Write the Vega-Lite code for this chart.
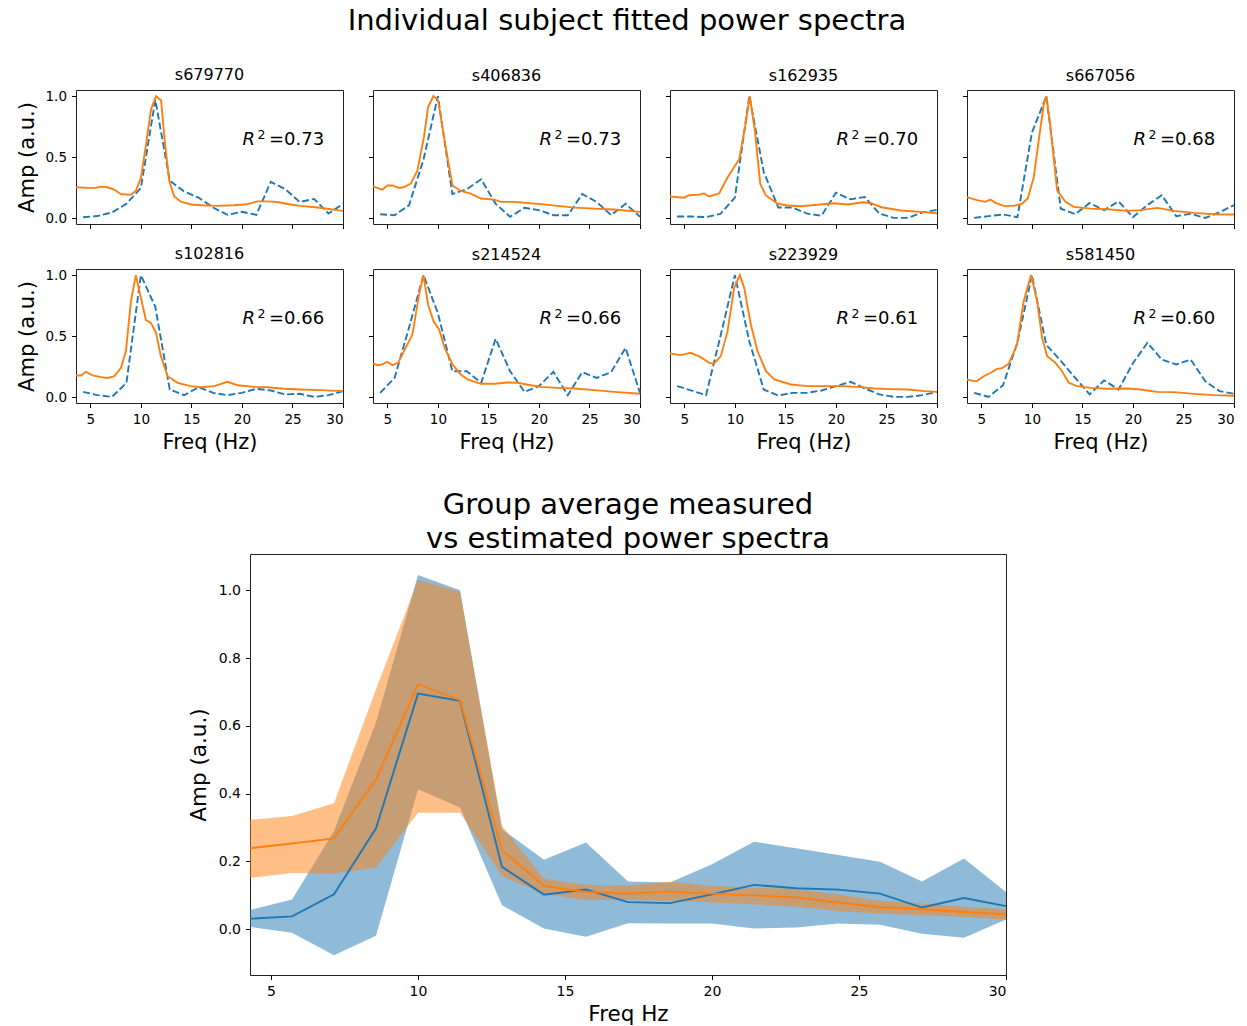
{
  "$schema": "https://vega.github.io/schema/vega-lite/v6.json",
  "padding": {"left": 15, "top": 6, "right": 5, "bottom": 2},
  "background": "white",
  "config": {
    "font": "DejaVu Sans",
    "view": {"stroke": "#222", "strokeWidth": 1},
    "axis": {"grid": false, "domain": false, "tickColor": "#000", "tickSize": 4.5, "tickWidth": 1, "labelColor": "#000", "titleColor": "#000", "titleFontWeight": "normal", "labelFontSize": 13.5, "titleFontSize": 21, "labelPadding": 5, "labelFont": "DejaVu Sans", "titleFont": "DejaVu Sans"},
    "axisY": {"titlePadding": 8},
    "axisX": {"titlePadding": 5},
    "title": {"fontWeight": "normal", "color": "#000", "font": "DejaVu Sans"}
  },
  "datasets": {
    "meas": [
      {"s":"s679770","f":4.2857,"a":0.01},{"s":"s679770","f":5.7143,"a":0.02},{"s":"s679770","f":7.1429,"a":0.05},{"s":"s679770","f":8.5714,"a":0.12},{"s":"s679770","f":10,"a":0.25},{"s":"s679770","f":11.4286,"a":0.97},{"s":"s679770","f":12.8571,"a":0.31},{"s":"s679770","f":14.2857,"a":0.22},{"s":"s679770","f":15.7143,"a":0.17},{"s":"s679770","f":17.1429,"a":0.09},{"s":"s679770","f":18.5714,"a":0.03},{"s":"s679770","f":20,"a":0.055},{"s":"s679770","f":21.4286,"a":0.03},{"s":"s679770","f":22.8571,"a":0.30},{"s":"s679770","f":24.2857,"a":0.24},{"s":"s679770","f":25.7143,"a":0.135},{"s":"s679770","f":27.1429,"a":0.16},{"s":"s679770","f":28.5714,"a":0.04},{"s":"s679770","f":30,"a":0.12},
      {"s":"s406836","f":4.2857,"a":0.035},{"s":"s406836","f":5.7143,"a":0.027},{"s":"s406836","f":7.1429,"a":0.108},{"s":"s406836","f":8.5714,"a":0.48},{"s":"s406836","f":10,"a":1.0},{"s":"s406836","f":11.4286,"a":0.20},{"s":"s406836","f":12.8571,"a":0.24},{"s":"s406836","f":14.2857,"a":0.32},{"s":"s406836","f":15.7143,"a":0.12},{"s":"s406836","f":17.1429,"a":0.014},{"s":"s406836","f":18.5714,"a":0.087},{"s":"s406836","f":20,"a":0.068},{"s":"s406836","f":21.4286,"a":0.027},{"s":"s406836","f":22.8571,"a":0.027},{"s":"s406836","f":24.2857,"a":0.20},{"s":"s406836","f":25.7143,"a":0.135},{"s":"s406836","f":27.1429,"a":0.027},{"s":"s406836","f":28.5714,"a":0.12},{"s":"s406836","f":30,"a":0.014},
      {"s":"s162935","f":4.2857,"a":0.016},{"s":"s162935","f":5.7143,"a":0.016},{"s":"s162935","f":7.1429,"a":0.011},{"s":"s162935","f":8.5714,"a":0.038},{"s":"s162935","f":10,"a":0.17},{"s":"s162935","f":11.4286,"a":1.0},{"s":"s162935","f":12.8571,"a":0.38},{"s":"s162935","f":14.2857,"a":0.09},{"s":"s162935","f":15.7143,"a":0.09},{"s":"s162935","f":17.1429,"a":0.04},{"s":"s162935","f":18.5714,"a":0.022},{"s":"s162935","f":20,"a":0.21},{"s":"s162935","f":21.4286,"a":0.157},{"s":"s162935","f":22.8571,"a":0.176},{"s":"s162935","f":24.2857,"a":0.04},{"s":"s162935","f":25.7143,"a":0.005},{"s":"s162935","f":27.1429,"a":0.005},{"s":"s162935","f":28.5714,"a":0.05},{"s":"s162935","f":30,"a":0.07},
      {"s":"s667056","f":4.2857,"a":0.005},{"s":"s667056","f":5.7143,"a":0.019},{"s":"s667056","f":7.1429,"a":0.033},{"s":"s667056","f":8.5714,"a":0.011},{"s":"s667056","f":10,"a":0.70},{"s":"s667056","f":11.4286,"a":1.0},{"s":"s667056","f":12.8571,"a":0.08},{"s":"s667056","f":14.2857,"a":0.035},{"s":"s667056","f":15.7143,"a":0.127},{"s":"s667056","f":17.1429,"a":0.068},{"s":"s667056","f":18.5714,"a":0.14},{"s":"s667056","f":20,"a":0.011},{"s":"s667056","f":21.4286,"a":0.11},{"s":"s667056","f":22.8571,"a":0.19},{"s":"s667056","f":24.2857,"a":0.019},{"s":"s667056","f":25.7143,"a":0.038},{"s":"s667056","f":27.1429,"a":0.005},{"s":"s667056","f":28.5714,"a":0.05},{"s":"s667056","f":30,"a":0.11},
      {"s":"s102816","f":4.2857,"a":0.046},{"s":"s102816","f":5.7143,"a":0.019},{"s":"s102816","f":7.1429,"a":0.005},{"s":"s102816","f":8.5714,"a":0.12},{"s":"s102816","f":10,"a":1.0},{"s":"s102816","f":11.4286,"a":0.74},{"s":"s102816","f":12.8571,"a":0.065},{"s":"s102816","f":14.2857,"a":0.019},{"s":"s102816","f":15.7143,"a":0.084},{"s":"s102816","f":17.1429,"a":0.038},{"s":"s102816","f":18.5714,"a":0.019},{"s":"s102816","f":20,"a":0.038},{"s":"s102816","f":21.4286,"a":0.071},{"s":"s102816","f":22.8571,"a":0.057},{"s":"s102816","f":24.2857,"a":0.025},{"s":"s102816","f":25.7143,"a":0.03},{"s":"s102816","f":27.1429,"a":0.005},{"s":"s102816","f":28.5714,"a":0.019},{"s":"s102816","f":30,"a":0.052},
      {"s":"s214524","f":4.2857,"a":0.038},{"s":"s214524","f":5.7143,"a":0.16},{"s":"s214524","f":7.1429,"a":0.57},{"s":"s214524","f":8.5714,"a":1.0},{"s":"s214524","f":10,"a":0.69},{"s":"s214524","f":11.4286,"a":0.215},{"s":"s214524","f":12.8571,"a":0.215},{"s":"s214524","f":14.2857,"a":0.12},{"s":"s214524","f":15.7143,"a":0.48},{"s":"s214524","f":17.1429,"a":0.215},{"s":"s214524","f":18.5714,"a":0.046},{"s":"s214524","f":20,"a":0.093},{"s":"s214524","f":21.4286,"a":0.21},{"s":"s214524","f":22.8571,"a":0.019},{"s":"s214524","f":24.2857,"a":0.207},{"s":"s214524","f":25.7143,"a":0.16},{"s":"s214524","f":27.1429,"a":0.207},{"s":"s214524","f":28.5714,"a":0.406},{"s":"s214524","f":30,"a":0.038},
      {"s":"s223929","f":4.2857,"a":0.093},{"s":"s223929","f":5.7143,"a":0.056},{"s":"s223929","f":7.1429,"a":0.019},{"s":"s223929","f":8.5714,"a":0.50},{"s":"s223929","f":10,"a":1.0},{"s":"s223929","f":11.4286,"a":0.46},{"s":"s223929","f":12.8571,"a":0.065},{"s":"s223929","f":14.2857,"a":0.016},{"s":"s223929","f":15.7143,"a":0.038},{"s":"s223929","f":17.1429,"a":0.038},{"s":"s223929","f":18.5714,"a":0.057},{"s":"s223929","f":20,"a":0.093},{"s":"s223929","f":21.4286,"a":0.128},{"s":"s223929","f":22.8571,"a":0.074},{"s":"s223929","f":24.2857,"a":0.025},{"s":"s223929","f":25.7143,"a":0.005},{"s":"s223929","f":27.1429,"a":0.005},{"s":"s223929","f":28.5714,"a":0.019},{"s":"s223929","f":30,"a":0.046},
      {"s":"s581450","f":4.2857,"a":0.038},{"s":"s581450","f":5.7143,"a":0.005},{"s":"s581450","f":7.1429,"a":0.10},{"s":"s581450","f":8.5714,"a":0.45},{"s":"s581450","f":10,"a":1.0},{"s":"s581450","f":11.4286,"a":0.43},{"s":"s581450","f":12.8571,"a":0.30},{"s":"s581450","f":14.2857,"a":0.16},{"s":"s581450","f":15.7143,"a":0.025},{"s":"s581450","f":17.1429,"a":0.14},{"s":"s581450","f":18.5714,"a":0.065},{"s":"s581450","f":20,"a":0.28},{"s":"s581450","f":21.4286,"a":0.447},{"s":"s581450","f":22.8571,"a":0.31},{"s":"s581450","f":24.2857,"a":0.27},{"s":"s581450","f":25.7143,"a":0.31},{"s":"s581450","f":27.1429,"a":0.134},{"s":"s581450","f":28.5714,"a":0.052},{"s":"s581450","f":30,"a":0.03}
    ],
    "model": [
      {"s":"s679770","f":3.58,"a":0.255},{"s":"s679770","f":4.7,"a":0.25},{"s":"s679770","f":5.5,"a":0.25},{"s":"s679770","f":6.0,"a":0.26},{"s":"s679770","f":6.7,"a":0.255},{"s":"s679770","f":7.4,"a":0.235},{"s":"s679770","f":8.0,"a":0.2},{"s":"s679770","f":9.0,"a":0.193},{"s":"s679770","f":9.5,"a":0.225},{"s":"s679770","f":10.0,"a":0.33},{"s":"s679770","f":10.5,"a":0.6},{"s":"s679770","f":11.0,"a":0.89},{"s":"s679770","f":11.5,"a":1.0},{"s":"s679770","f":12.0,"a":0.965},{"s":"s679770","f":12.4,"a":0.6},{"s":"s679770","f":12.8,"a":0.31},{"s":"s679770","f":13.3,"a":0.18},{"s":"s679770","f":14.0,"a":0.135},{"s":"s679770","f":15.0,"a":0.114},{"s":"s679770","f":16.0,"a":0.108},{"s":"s679770","f":17.5,"a":0.103},{"s":"s679770","f":19.2,"a":0.108},{"s":"s679770","f":20.5,"a":0.116},{"s":"s679770","f":21.5,"a":0.14},{"s":"s679770","f":22.5,"a":0.14},{"s":"s679770","f":23.5,"a":0.135},{"s":"s679770","f":24.8,"a":0.114},{"s":"s679770","f":25.8,"a":0.103},{"s":"s679770","f":27.5,"a":0.09},{"s":"s679770","f":28.8,"a":0.076},{"s":"s679770","f":30,"a":0.062},
      {"s":"s406836","f":3.58,"a":0.263},{"s":"s406836","f":4.5,"a":0.236},{"s":"s406836","f":5.0,"a":0.27},{"s":"s406836","f":5.5,"a":0.27},{"s":"s406836","f":6.16,"a":0.25},{"s":"s406836","f":6.65,"a":0.257},{"s":"s406836","f":7.31,"a":0.285},{"s":"s406836","f":7.97,"a":0.39},{"s":"s406836","f":8.63,"a":0.67},{"s":"s406836","f":9.03,"a":0.91},{"s":"s406836","f":9.56,"a":1.0},{"s":"s406836","f":10.02,"a":0.967},{"s":"s406836","f":10.45,"a":0.745},{"s":"s406836","f":11.01,"a":0.47},{"s":"s406836","f":11.44,"a":0.27},{"s":"s406836","f":12.27,"a":0.225},{"s":"s406836","f":13.26,"a":0.203},{"s":"s406836","f":14.25,"a":0.163},{"s":"s406836","f":15.57,"a":0.154},{"s":"s406836","f":16.23,"a":0.136},{"s":"s406836","f":17.55,"a":0.136},{"s":"s406836","f":18.87,"a":0.127},{"s":"s406836","f":20.19,"a":0.117},{"s":"s406836","f":21.84,"a":0.103},{"s":"s406836","f":23.49,"a":0.089},{"s":"s406836","f":25.48,"a":0.081},{"s":"s406836","f":27.46,"a":0.073},{"s":"s406836","f":30,"a":0.054},
      {"s":"s162935","f":3.58,"a":0.18},{"s":"s162935","f":4.97,"a":0.17},{"s":"s162935","f":5.46,"a":0.19},{"s":"s162935","f":6.46,"a":0.195},{"s":"s162935","f":6.95,"a":0.205},{"s":"s162935","f":7.45,"a":0.18},{"s":"s162935","f":8.44,"a":0.205},{"s":"s162935","f":9.27,"a":0.335},{"s":"s162935","f":10.43,"a":0.485},{"s":"s162935","f":10.99,"a":0.74},{"s":"s162935","f":11.48,"a":1.0},{"s":"s162935","f":11.98,"a":0.717},{"s":"s162935","f":12.51,"a":0.283},{"s":"s162935","f":13.07,"a":0.188},{"s":"s162935","f":14.23,"a":0.12},{"s":"s162935","f":15.22,"a":0.106},{"s":"s162935","f":16.54,"a":0.1},{"s":"s162935","f":17.87,"a":0.11},{"s":"s162935","f":19.19,"a":0.12},{"s":"s162935","f":19.85,"a":0.125},{"s":"s162935","f":21.17,"a":0.114},{"s":"s162935","f":22.66,"a":0.133},{"s":"s162935","f":23.49,"a":0.125},{"s":"s162935","f":24.48,"a":0.092},{"s":"s162935","f":26.46,"a":0.065},{"s":"s162935","f":28.78,"a":0.052},{"s":"s162935","f":30,"a":0.043},
      {"s":"s667056","f":3.58,"a":0.175},{"s":"s667056","f":4.57,"a":0.15},{"s":"s667056","f":5.4,"a":0.136},{"s":"s667056","f":5.89,"a":0.155},{"s":"s667056","f":6.39,"a":0.128},{"s":"s667056","f":7.21,"a":0.103},{"s":"s667056","f":8.2,"a":0.103},{"s":"s667056","f":9.03,"a":0.122},{"s":"s667056","f":9.59,"a":0.163},{"s":"s667056","f":10.19,"a":0.34},{"s":"s667056","f":10.68,"a":0.64},{"s":"s667056","f":11.18,"a":0.935},{"s":"s667056","f":11.44,"a":1.0},{"s":"s667056","f":11.84,"a":0.745},{"s":"s667056","f":12.5,"a":0.23},{"s":"s667056","f":13.32,"a":0.136},{"s":"s667056","f":14.15,"a":0.095},{"s":"s667056","f":15.8,"a":0.081},{"s":"s667056","f":17.45,"a":0.076},{"s":"s667056","f":19.43,"a":0.062},{"s":"s667056","f":20.75,"a":0.068},{"s":"s667056","f":22.4,"a":0.087},{"s":"s667056","f":24.05,"a":0.062},{"s":"s667056","f":26.04,"a":0.046},{"s":"s667056","f":28.02,"a":0.035},{"s":"s667056","f":30,"a":0.033},
      {"s":"s102816","f":3.58,"a":0.18},{"s":"s102816","f":4.07,"a":0.18},{"s":"s102816","f":4.57,"a":0.21},{"s":"s102816","f":5.23,"a":0.18},{"s":"s102816","f":6.05,"a":0.166},{"s":"s102816","f":6.71,"a":0.16},{"s":"s102816","f":7.37,"a":0.174},{"s":"s102816","f":8.03,"a":0.243},{"s":"s102816","f":8.52,"a":0.38},{"s":"s102816","f":9.02,"a":0.79},{"s":"s102816","f":9.51,"a":1.0},{"s":"s102816","f":10.0,"a":0.815},{"s":"s102816","f":10.5,"a":0.632},{"s":"s102816","f":10.99,"a":0.61},{"s":"s102816","f":11.49,"a":0.53},{"s":"s102816","f":11.98,"a":0.338},{"s":"s102816","f":12.64,"a":0.174},{"s":"s102816","f":13.63,"a":0.12},{"s":"s102816","f":14.94,"a":0.093},{"s":"s102816","f":15.93,"a":0.084},{"s":"s102816","f":17.25,"a":0.093},{"s":"s102816","f":18.57,"a":0.128},{"s":"s102816","f":19.56,"a":0.1},{"s":"s102816","f":21.2,"a":0.087},{"s":"s102816","f":22.52,"a":0.084},{"s":"s102816","f":24.17,"a":0.071},{"s":"s102816","f":25.81,"a":0.065},{"s":"s102816","f":27.79,"a":0.06},{"s":"s102816","f":30,"a":0.052},
      {"s":"s214524","f":3.58,"a":0.278},{"s":"s214524","f":4.01,"a":0.264},{"s":"s214524","f":4.5,"a":0.27},{"s":"s214524","f":5.0,"a":0.292},{"s":"s214524","f":5.5,"a":0.264},{"s":"s214524","f":6.06,"a":0.283},{"s":"s214524","f":6.65,"a":0.379},{"s":"s214524","f":7.48,"a":0.515},{"s":"s214524","f":8.14,"a":0.842},{"s":"s214524","f":8.57,"a":1.0},{"s":"s214524","f":9.03,"a":0.76},{"s":"s214524","f":9.56,"a":0.624},{"s":"s214524","f":10.12,"a":0.556},{"s":"s214524","f":10.68,"a":0.406},{"s":"s214524","f":11.44,"a":0.27},{"s":"s214524","f":12.27,"a":0.188},{"s":"s214524","f":12.93,"a":0.147},{"s":"s214524","f":14.25,"a":0.112},{"s":"s214524","f":15.57,"a":0.112},{"s":"s214524","f":16.89,"a":0.123},{"s":"s214524","f":17.88,"a":0.12},{"s":"s214524","f":19.2,"a":0.1},{"s":"s214524","f":20.19,"a":0.087},{"s":"s214524","f":21.84,"a":0.079},{"s":"s214524","f":23.49,"a":0.074},{"s":"s214524","f":25.48,"a":0.06},{"s":"s214524","f":27.46,"a":0.046},{"s":"s214524","f":30,"a":0.03},
      {"s":"s223929","f":3.58,"a":0.36},{"s":"s223929","f":4.64,"a":0.346},{"s":"s223929","f":5.63,"a":0.365},{"s":"s223929","f":6.62,"a":0.33},{"s":"s223929","f":7.45,"a":0.283},{"s":"s223929","f":7.95,"a":0.278},{"s":"s223929","f":8.61,"a":0.338},{"s":"s223929","f":9.27,"a":0.54},{"s":"s223929","f":9.93,"a":0.896},{"s":"s223929","f":10.49,"a":1.0},{"s":"s223929","f":10.92,"a":0.896},{"s":"s223929","f":11.58,"a":0.597},{"s":"s223929","f":12.24,"a":0.379},{"s":"s223929","f":13.07,"a":0.215},{"s":"s223929","f":13.9,"a":0.147},{"s":"s223929","f":15.55,"a":0.106},{"s":"s223929","f":17.2,"a":0.093},{"s":"s223929","f":18.86,"a":0.093},{"s":"s223929","f":20.51,"a":0.093},{"s":"s223929","f":22.16,"a":0.087},{"s":"s223929","f":23.82,"a":0.074},{"s":"s223929","f":25.47,"a":0.068},{"s":"s223929","f":27.12,"a":0.065},{"s":"s223929","f":28.78,"a":0.052},{"s":"s223929","f":30,"a":0.046},
      {"s":"s581450","f":3.58,"a":0.147},{"s":"s581450","f":4.24,"a":0.134},{"s":"s581450","f":4.57,"a":0.134},{"s":"s581450","f":5.23,"a":0.174},{"s":"s581450","f":5.89,"a":0.2},{"s":"s581450","f":6.55,"a":0.234},{"s":"s581450","f":7.05,"a":0.24},{"s":"s581450","f":7.71,"a":0.275},{"s":"s581450","f":8.53,"a":0.433},{"s":"s581450","f":9.19,"a":0.787},{"s":"s581450","f":9.92,"a":1.0},{"s":"s581450","f":10.52,"a":0.787},{"s":"s581450","f":11.01,"a":0.488},{"s":"s581450","f":11.51,"a":0.338},{"s":"s581450","f":12.33,"a":0.283},{"s":"s581450","f":12.99,"a":0.215},{"s":"s581450","f":13.65,"a":0.12},{"s":"s581450","f":14.48,"a":0.093},{"s":"s581450","f":15.8,"a":0.079},{"s":"s581450","f":17.45,"a":0.071},{"s":"s581450","f":19.43,"a":0.074},{"s":"s581450","f":20.75,"a":0.065},{"s":"s581450","f":22.4,"a":0.046},{"s":"s581450","f":24.05,"a":0.044},{"s":"s581450","f":26.04,"a":0.03},{"s":"s581450","f":28.02,"a":0.019},{"s":"s581450","f":30,"a":0.014}
    ],
    "r2": [
      {"s":"s679770","lab":"=0.73"},{"s":"s406836","lab":"=0.73"},{"s":"s162935","lab":"=0.70"},{"s":"s667056","lab":"=0.68"},
      {"s":"s102816","lab":"=0.66"},{"s":"s214524","lab":"=0.66"},{"s":"s223929","lab":"=0.61"},{"s":"s581450","lab":"=0.60"}
    ],
    "grp": [
      {"f":4.2857,"mMean":0.031,"mLo":0.007,"mHi":0.057,"eMean":0.239,"eLo":0.151,"eHi":0.323},
      {"f":5.7143,"mMean":0.038,"mLo":-0.010,"mHi":0.088,"eMean":0.253,"eLo":0.166,"eHi":0.334},
      {"f":7.1429,"mMean":0.103,"mLo":-0.077,"mHi":0.29,"eMean":0.268,"eLo":0.164,"eHi":0.372},
      {"f":8.5714,"mMean":0.298,"mLo":-0.019,"mHi":0.61,"eMean":0.442,"eLo":0.182,"eHi":0.708},
      {"f":10,"mMean":0.695,"mLo":0.413,"mHi":1.045,"eMean":0.723,"eLo":0.344,"eHi":1.030},
      {"f":11.4286,"mMean":0.674,"mLo":0.359,"mHi":1.0,"eMean":0.676,"eLo":0.344,"eHi":0.996},
      {"f":12.8571,"mMean":0.184,"mLo":0.071,"mHi":0.295,"eMean":0.233,"eLo":0.157,"eHi":0.305},
      {"f":14.2857,"mMean":0.102,"mLo":0.002,"mHi":0.205,"eMean":0.128,"eLo":0.103,"eHi":0.149},
      {"f":15.7143,"mMean":0.117,"mLo":-0.022,"mHi":0.256,"eMean":0.110,"eLo":0.086,"eHi":0.131},
      {"f":17.1429,"mMean":0.080,"mLo":0.018,"mHi":0.141,"eMean":0.105,"eLo":0.086,"eHi":0.128},
      {"f":18.5714,"mMean":0.077,"mLo":0.017,"mHi":0.138,"eMean":0.111,"eLo":0.084,"eHi":0.140},
      {"f":20,"mMean":0.103,"mLo":0.017,"mHi":0.192,"eMean":0.105,"eLo":0.079,"eHi":0.128},
      {"f":21.4286,"mMean":0.131,"mLo":0.002,"mHi":0.258,"eMean":0.100,"eLo":0.074,"eHi":0.123},
      {"f":22.8571,"mMean":0.121,"mLo":0.005,"mHi":0.239,"eMean":0.094,"eLo":0.066,"eHi":0.118},
      {"f":24.2857,"mMean":0.117,"mLo":0.017,"mHi":0.219,"eMean":0.079,"eLo":0.054,"eHi":0.103},
      {"f":25.7143,"mMean":0.105,"mLo":0.013,"mHi":0.199,"eMean":0.065,"eLo":0.046,"eHi":0.084},
      {"f":27.1429,"mMean":0.064,"mLo":-0.013,"mHi":0.141,"eMean":0.059,"eLo":0.042,"eHi":0.076},
      {"f":28.5714,"mMean":0.092,"mLo":-0.025,"mHi":0.209,"eMean":0.051,"eLo":0.036,"eHi":0.066},
      {"f":30,"mMean":0.068,"mLo":0.029,"mHi":0.110,"eMean":0.044,"eLo":0.029,"eHi":0.059}
    ]
  },
  "title": {"text": "Individual subject fitted power spectra", "fontSize": 29, "anchor": "middle", "offset": 31},
  "spacing": 37,
  "vconcat": [
    {
      "spacing": 15,
      "vconcat": [
        {
          "bounds": "flush",
          "spacing": 30,
          "hconcat": [
            {
              "width": 267, "height": 134,
              "title": {"text": "s679770", "fontSize": 16, "offset": 6},
              "layer": [
                {"data": {"name": "meas"}, "transform": [{"filter": "datum.s === 's679770'"}], "mark": {"type": "line", "color": "#1f77b4", "strokeWidth": 1.9, "strokeDash": [7, 3]},
                 "encoding": {"x": {"field": "f", "type": "quantitative", "scale": {"domain": [3.58, 30], "nice": false, "zero": false}, "axis": {"values": [5,10,15,20,25,30], "labels": false, "title": null}}, "y": {"field": "a", "type": "quantitative", "scale": {"domain": [-0.045, 1.05], "nice": false, "zero": false}, "axis": {"values": [0, 0.5, 1], "format": ".1f", "title": "Amp (a.u.)"}}}},
                {"data": {"name": "model"}, "transform": [{"filter": "datum.s === 's679770'"}], "mark": {"type": "line", "color": "#ff7f0e", "strokeWidth": 1.9}, "encoding": {"x": {"field": "f", "type": "quantitative"}, "y": {"field": "a", "type": "quantitative"}}},
                {"data": {"name": "r2"}, "transform": [{"filter": "datum.s === 's679770'"}], "mark": {"type": "text", "text": "R", "fontStyle": "italic", "fontSize": 18, "align": "left", "baseline": "middle", "color": "#000"}, "encoding": {"x": {"datum": 20.05, "type": "quantitative"}, "y": {"datum": 0.645, "type": "quantitative"}}},
                {"data": {"name": "r2"}, "transform": [{"filter": "datum.s === 's679770'"}], "mark": {"type": "text", "text": "2", "fontSize": 12.5, "align": "left", "baseline": "middle", "dx": 15, "dy": -5, "color": "#000"}, "encoding": {"x": {"datum": 20.05, "type": "quantitative"}, "y": {"datum": 0.645, "type": "quantitative"}}},
                {"data": {"name": "r2"}, "transform": [{"filter": "datum.s === 's679770'"}], "mark": {"type": "text", "fontSize": 18, "align": "left", "baseline": "middle", "dx": 26.5, "color": "#000"}, "encoding": {"x": {"datum": 20.05, "type": "quantitative"}, "y": {"datum": 0.645, "type": "quantitative"}, "text": {"field": "lab", "type": "nominal"}}}
              ]
            },
            {
              "width": 267, "height": 134,
              "title": {"text": "s406836", "fontSize": 16, "offset": 6},
              "layer": [
                {"data": {"name": "meas"}, "transform": [{"filter": "datum.s === 's406836'"}], "mark": {"type": "line", "color": "#1f77b4", "strokeWidth": 1.9, "strokeDash": [7, 3]},
                 "encoding": {"x": {"field": "f", "type": "quantitative", "scale": {"domain": [3.58, 30], "nice": false, "zero": false}, "axis": {"values": [5,10,15,20,25,30], "labels": false, "title": null}}, "y": {"field": "a", "type": "quantitative", "scale": {"domain": [-0.045, 1.05], "nice": false, "zero": false}, "axis": {"values": [0, 0.5, 1], "labels": false, "title": null}}}},
                {"data": {"name": "model"}, "transform": [{"filter": "datum.s === 's406836'"}], "mark": {"type": "line", "color": "#ff7f0e", "strokeWidth": 1.9}, "encoding": {"x": {"field": "f", "type": "quantitative"}, "y": {"field": "a", "type": "quantitative"}}},
                {"data": {"name": "r2"}, "transform": [{"filter": "datum.s === 's406836'"}], "mark": {"type": "text", "text": "R", "fontStyle": "italic", "fontSize": 18, "align": "left", "baseline": "middle", "color": "#000"}, "encoding": {"x": {"datum": 20.05, "type": "quantitative"}, "y": {"datum": 0.645, "type": "quantitative"}}},
                {"data": {"name": "r2"}, "transform": [{"filter": "datum.s === 's406836'"}], "mark": {"type": "text", "text": "2", "fontSize": 12.5, "align": "left", "baseline": "middle", "dx": 15, "dy": -5, "color": "#000"}, "encoding": {"x": {"datum": 20.05, "type": "quantitative"}, "y": {"datum": 0.645, "type": "quantitative"}}},
                {"data": {"name": "r2"}, "transform": [{"filter": "datum.s === 's406836'"}], "mark": {"type": "text", "fontSize": 18, "align": "left", "baseline": "middle", "dx": 26.5, "color": "#000"}, "encoding": {"x": {"datum": 20.05, "type": "quantitative"}, "y": {"datum": 0.645, "type": "quantitative"}, "text": {"field": "lab", "type": "nominal"}}}
              ]
            },
            {
              "width": 267, "height": 134,
              "title": {"text": "s162935", "fontSize": 16, "offset": 6},
              "layer": [
                {"data": {"name": "meas"}, "transform": [{"filter": "datum.s === 's162935'"}], "mark": {"type": "line", "color": "#1f77b4", "strokeWidth": 1.9, "strokeDash": [7, 3]},
                 "encoding": {"x": {"field": "f", "type": "quantitative", "scale": {"domain": [3.58, 30], "nice": false, "zero": false}, "axis": {"values": [5,10,15,20,25,30], "labels": false, "title": null}}, "y": {"field": "a", "type": "quantitative", "scale": {"domain": [-0.045, 1.05], "nice": false, "zero": false}, "axis": {"values": [0, 0.5, 1], "labels": false, "title": null}}}},
                {"data": {"name": "model"}, "transform": [{"filter": "datum.s === 's162935'"}], "mark": {"type": "line", "color": "#ff7f0e", "strokeWidth": 1.9}, "encoding": {"x": {"field": "f", "type": "quantitative"}, "y": {"field": "a", "type": "quantitative"}}},
                {"data": {"name": "r2"}, "transform": [{"filter": "datum.s === 's162935'"}], "mark": {"type": "text", "text": "R", "fontStyle": "italic", "fontSize": 18, "align": "left", "baseline": "middle", "color": "#000"}, "encoding": {"x": {"datum": 20.05, "type": "quantitative"}, "y": {"datum": 0.645, "type": "quantitative"}}},
                {"data": {"name": "r2"}, "transform": [{"filter": "datum.s === 's162935'"}], "mark": {"type": "text", "text": "2", "fontSize": 12.5, "align": "left", "baseline": "middle", "dx": 15, "dy": -5, "color": "#000"}, "encoding": {"x": {"datum": 20.05, "type": "quantitative"}, "y": {"datum": 0.645, "type": "quantitative"}}},
                {"data": {"name": "r2"}, "transform": [{"filter": "datum.s === 's162935'"}], "mark": {"type": "text", "fontSize": 18, "align": "left", "baseline": "middle", "dx": 26.5, "color": "#000"}, "encoding": {"x": {"datum": 20.05, "type": "quantitative"}, "y": {"datum": 0.645, "type": "quantitative"}, "text": {"field": "lab", "type": "nominal"}}}
              ]
            },
            {
              "width": 267, "height": 134,
              "title": {"text": "s667056", "fontSize": 16, "offset": 6},
              "layer": [
                {"data": {"name": "meas"}, "transform": [{"filter": "datum.s === 's667056'"}], "mark": {"type": "line", "color": "#1f77b4", "strokeWidth": 1.9, "strokeDash": [7, 3]},
                 "encoding": {"x": {"field": "f", "type": "quantitative", "scale": {"domain": [3.58, 30], "nice": false, "zero": false}, "axis": {"values": [5,10,15,20,25,30], "labels": false, "title": null}}, "y": {"field": "a", "type": "quantitative", "scale": {"domain": [-0.045, 1.05], "nice": false, "zero": false}, "axis": {"values": [0, 0.5, 1], "labels": false, "title": null}}}},
                {"data": {"name": "model"}, "transform": [{"filter": "datum.s === 's667056'"}], "mark": {"type": "line", "color": "#ff7f0e", "strokeWidth": 1.9}, "encoding": {"x": {"field": "f", "type": "quantitative"}, "y": {"field": "a", "type": "quantitative"}}},
                {"data": {"name": "r2"}, "transform": [{"filter": "datum.s === 's667056'"}], "mark": {"type": "text", "text": "R", "fontStyle": "italic", "fontSize": 18, "align": "left", "baseline": "middle", "color": "#000"}, "encoding": {"x": {"datum": 20.05, "type": "quantitative"}, "y": {"datum": 0.645, "type": "quantitative"}}},
                {"data": {"name": "r2"}, "transform": [{"filter": "datum.s === 's667056'"}], "mark": {"type": "text", "text": "2", "fontSize": 12.5, "align": "left", "baseline": "middle", "dx": 15, "dy": -5, "color": "#000"}, "encoding": {"x": {"datum": 20.05, "type": "quantitative"}, "y": {"datum": 0.645, "type": "quantitative"}}},
                {"data": {"name": "r2"}, "transform": [{"filter": "datum.s === 's667056'"}], "mark": {"type": "text", "fontSize": 18, "align": "left", "baseline": "middle", "dx": 26.5, "color": "#000"}, "encoding": {"x": {"datum": 20.05, "type": "quantitative"}, "y": {"datum": 0.645, "type": "quantitative"}, "text": {"field": "lab", "type": "nominal"}}}
              ]
            }
          ]
        },
        {
          "bounds": "flush",
          "spacing": 30,
          "hconcat": [
            {
              "width": 267, "height": 134,
              "title": {"text": "s102816", "fontSize": 16, "offset": 6},
              "layer": [
                {"data": {"name": "meas"}, "transform": [{"filter": "datum.s === 's102816'"}], "mark": {"type": "line", "color": "#1f77b4", "strokeWidth": 1.9, "strokeDash": [7, 3]},
                 "encoding": {"x": {"field": "f", "type": "quantitative", "scale": {"domain": [3.58, 30], "nice": false, "zero": false}, "axis": {"values": [5,10,15,20,25,30], "format": "d", "title": "Freq (Hz)"}}, "y": {"field": "a", "type": "quantitative", "scale": {"domain": [-0.045, 1.05], "nice": false, "zero": false}, "axis": {"values": [0, 0.5, 1], "format": ".1f", "title": "Amp (a.u.)"}}}},
                {"data": {"name": "model"}, "transform": [{"filter": "datum.s === 's102816'"}], "mark": {"type": "line", "color": "#ff7f0e", "strokeWidth": 1.9}, "encoding": {"x": {"field": "f", "type": "quantitative"}, "y": {"field": "a", "type": "quantitative"}}},
                {"data": {"name": "r2"}, "transform": [{"filter": "datum.s === 's102816'"}], "mark": {"type": "text", "text": "R", "fontStyle": "italic", "fontSize": 18, "align": "left", "baseline": "middle", "color": "#000"}, "encoding": {"x": {"datum": 20.05, "type": "quantitative"}, "y": {"datum": 0.645, "type": "quantitative"}}},
                {"data": {"name": "r2"}, "transform": [{"filter": "datum.s === 's102816'"}], "mark": {"type": "text", "text": "2", "fontSize": 12.5, "align": "left", "baseline": "middle", "dx": 15, "dy": -5, "color": "#000"}, "encoding": {"x": {"datum": 20.05, "type": "quantitative"}, "y": {"datum": 0.645, "type": "quantitative"}}},
                {"data": {"name": "r2"}, "transform": [{"filter": "datum.s === 's102816'"}], "mark": {"type": "text", "fontSize": 18, "align": "left", "baseline": "middle", "dx": 26.5, "color": "#000"}, "encoding": {"x": {"datum": 20.05, "type": "quantitative"}, "y": {"datum": 0.645, "type": "quantitative"}, "text": {"field": "lab", "type": "nominal"}}}
              ]
            },
            {
              "width": 267, "height": 134,
              "title": {"text": "s214524", "fontSize": 16, "offset": 6},
              "layer": [
                {"data": {"name": "meas"}, "transform": [{"filter": "datum.s === 's214524'"}], "mark": {"type": "line", "color": "#1f77b4", "strokeWidth": 1.9, "strokeDash": [7, 3]},
                 "encoding": {"x": {"field": "f", "type": "quantitative", "scale": {"domain": [3.58, 30], "nice": false, "zero": false}, "axis": {"values": [5,10,15,20,25,30], "format": "d", "title": "Freq (Hz)"}}, "y": {"field": "a", "type": "quantitative", "scale": {"domain": [-0.045, 1.05], "nice": false, "zero": false}, "axis": {"values": [0, 0.5, 1], "labels": false, "title": null}}}},
                {"data": {"name": "model"}, "transform": [{"filter": "datum.s === 's214524'"}], "mark": {"type": "line", "color": "#ff7f0e", "strokeWidth": 1.9}, "encoding": {"x": {"field": "f", "type": "quantitative"}, "y": {"field": "a", "type": "quantitative"}}},
                {"data": {"name": "r2"}, "transform": [{"filter": "datum.s === 's214524'"}], "mark": {"type": "text", "text": "R", "fontStyle": "italic", "fontSize": 18, "align": "left", "baseline": "middle", "color": "#000"}, "encoding": {"x": {"datum": 20.05, "type": "quantitative"}, "y": {"datum": 0.645, "type": "quantitative"}}},
                {"data": {"name": "r2"}, "transform": [{"filter": "datum.s === 's214524'"}], "mark": {"type": "text", "text": "2", "fontSize": 12.5, "align": "left", "baseline": "middle", "dx": 15, "dy": -5, "color": "#000"}, "encoding": {"x": {"datum": 20.05, "type": "quantitative"}, "y": {"datum": 0.645, "type": "quantitative"}}},
                {"data": {"name": "r2"}, "transform": [{"filter": "datum.s === 's214524'"}], "mark": {"type": "text", "fontSize": 18, "align": "left", "baseline": "middle", "dx": 26.5, "color": "#000"}, "encoding": {"x": {"datum": 20.05, "type": "quantitative"}, "y": {"datum": 0.645, "type": "quantitative"}, "text": {"field": "lab", "type": "nominal"}}}
              ]
            },
            {
              "width": 267, "height": 134,
              "title": {"text": "s223929", "fontSize": 16, "offset": 6},
              "layer": [
                {"data": {"name": "meas"}, "transform": [{"filter": "datum.s === 's223929'"}], "mark": {"type": "line", "color": "#1f77b4", "strokeWidth": 1.9, "strokeDash": [7, 3]},
                 "encoding": {"x": {"field": "f", "type": "quantitative", "scale": {"domain": [3.58, 30], "nice": false, "zero": false}, "axis": {"values": [5,10,15,20,25,30], "format": "d", "title": "Freq (Hz)"}}, "y": {"field": "a", "type": "quantitative", "scale": {"domain": [-0.045, 1.05], "nice": false, "zero": false}, "axis": {"values": [0, 0.5, 1], "labels": false, "title": null}}}},
                {"data": {"name": "model"}, "transform": [{"filter": "datum.s === 's223929'"}], "mark": {"type": "line", "color": "#ff7f0e", "strokeWidth": 1.9}, "encoding": {"x": {"field": "f", "type": "quantitative"}, "y": {"field": "a", "type": "quantitative"}}},
                {"data": {"name": "r2"}, "transform": [{"filter": "datum.s === 's223929'"}], "mark": {"type": "text", "text": "R", "fontStyle": "italic", "fontSize": 18, "align": "left", "baseline": "middle", "color": "#000"}, "encoding": {"x": {"datum": 20.05, "type": "quantitative"}, "y": {"datum": 0.645, "type": "quantitative"}}},
                {"data": {"name": "r2"}, "transform": [{"filter": "datum.s === 's223929'"}], "mark": {"type": "text", "text": "2", "fontSize": 12.5, "align": "left", "baseline": "middle", "dx": 15, "dy": -5, "color": "#000"}, "encoding": {"x": {"datum": 20.05, "type": "quantitative"}, "y": {"datum": 0.645, "type": "quantitative"}}},
                {"data": {"name": "r2"}, "transform": [{"filter": "datum.s === 's223929'"}], "mark": {"type": "text", "fontSize": 18, "align": "left", "baseline": "middle", "dx": 26.5, "color": "#000"}, "encoding": {"x": {"datum": 20.05, "type": "quantitative"}, "y": {"datum": 0.645, "type": "quantitative"}, "text": {"field": "lab", "type": "nominal"}}}
              ]
            },
            {
              "width": 267, "height": 134,
              "title": {"text": "s581450", "fontSize": 16, "offset": 6},
              "layer": [
                {"data": {"name": "meas"}, "transform": [{"filter": "datum.s === 's581450'"}], "mark": {"type": "line", "color": "#1f77b4", "strokeWidth": 1.9, "strokeDash": [7, 3]},
                 "encoding": {"x": {"field": "f", "type": "quantitative", "scale": {"domain": [3.58, 30], "nice": false, "zero": false}, "axis": {"values": [5,10,15,20,25,30], "format": "d", "title": "Freq (Hz)"}}, "y": {"field": "a", "type": "quantitative", "scale": {"domain": [-0.045, 1.05], "nice": false, "zero": false}, "axis": {"values": [0, 0.5, 1], "labels": false, "title": null}}}},
                {"data": {"name": "model"}, "transform": [{"filter": "datum.s === 's581450'"}], "mark": {"type": "line", "color": "#ff7f0e", "strokeWidth": 1.9}, "encoding": {"x": {"field": "f", "type": "quantitative"}, "y": {"field": "a", "type": "quantitative"}}},
                {"data": {"name": "r2"}, "transform": [{"filter": "datum.s === 's581450'"}], "mark": {"type": "text", "text": "R", "fontStyle": "italic", "fontSize": 18, "align": "left", "baseline": "middle", "color": "#000"}, "encoding": {"x": {"datum": 20.05, "type": "quantitative"}, "y": {"datum": 0.645, "type": "quantitative"}}},
                {"data": {"name": "r2"}, "transform": [{"filter": "datum.s === 's581450'"}], "mark": {"type": "text", "text": "2", "fontSize": 12.5, "align": "left", "baseline": "middle", "dx": 15, "dy": -5, "color": "#000"}, "encoding": {"x": {"datum": 20.05, "type": "quantitative"}, "y": {"datum": 0.645, "type": "quantitative"}}},
                {"data": {"name": "r2"}, "transform": [{"filter": "datum.s === 's581450'"}], "mark": {"type": "text", "fontSize": 18, "align": "left", "baseline": "middle", "dx": 26.5, "color": "#000"}, "encoding": {"x": {"datum": 20.05, "type": "quantitative"}, "y": {"datum": 0.645, "type": "quantitative"}, "text": {"field": "lab", "type": "nominal"}}}
              ]
            }
          ]
        }
      ]
    },
    {
      "spacing": 0,
      "hconcat": [
        {
          "width": 111, "height": 10,
          "view": {"stroke": null},
          "data": {"values": [{}]},
          "mark": {"type": "text", "text": ""},
          "encoding": {}
        },
        {
          "width": 756, "height": 421,
          "title": {"text": ["Group average measured", "vs estimated power spectra"], "fontSize": 29, "lineHeight": 34, "anchor": "middle", "offset": 0},
          "data": {"name": "grp"},
          "layer": [
            {"mark": {"type": "area", "color": "#1f77b4", "opacity": 0.5}, "encoding": {
              "x": {"field": "f", "type": "quantitative", "scale": {"domain": [4.2857, 30], "nice": false, "zero": false}, "axis": {"values": [5,10,15,20,25,30], "format": "d", "title": "Freq Hz", "labelFontSize": 14, "titleFontSize": 21.5}},
              "y": {"field": "mLo", "type": "quantitative", "scale": {"domain": [-0.135, 1.107], "nice": false, "zero": false}, "axis": {"values": [0, 0.2, 0.4, 0.6, 0.8, 1.0], "format": ".1f", "title": "Amp (a.u.)", "labelFontSize": 14, "titleFontSize": 21.5}}, "y2": {"field": "mHi"}}},
            {"mark": {"type": "area", "color": "#ff7f0e", "opacity": 0.5}, "encoding": {"x": {"field": "f", "type": "quantitative"}, "y": {"field": "eLo", "type": "quantitative"}, "y2": {"field": "eHi"}}},
            {"mark": {"type": "line", "color": "#1f77b4", "strokeWidth": 1.9}, "encoding": {"x": {"field": "f", "type": "quantitative"}, "y": {"field": "mMean", "type": "quantitative"}}},
            {"mark": {"type": "line", "color": "#ff7f0e", "strokeWidth": 1.9}, "encoding": {"x": {"field": "f", "type": "quantitative"}, "y": {"field": "eMean", "type": "quantitative"}}}
          ]
        }
      ]
    }
  ]
}
